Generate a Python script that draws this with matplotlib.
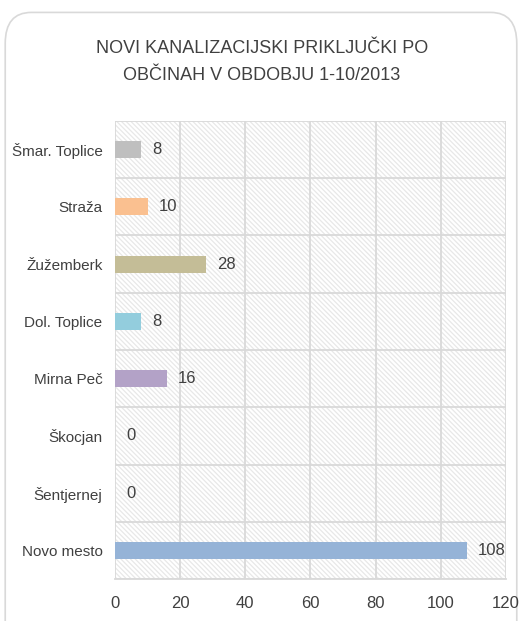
import matplotlib.pyplot as plt
from matplotlib.patches import FancyBboxPatch, Rectangle
import matplotlib.font_manager as fm

names = {f.name for f in fm.fontManager.ttflist}
fam = 'Liberation Sans Narrow' if 'Liberation Sans Narrow' in names else 'Liberation Sans'
plt.rcParams['font.family'] = [fam, 'DejaVu Sans']
plt.rcParams['hatch.linewidth'] = 0.9

# podatki (od spodaj navzgor)
obcine = ['Novo mesto', 'Šentjernej', 'Škocjan', 'Mirna Peč',
          'Dol. Toplice', 'Žužemberk', 'Straža', 'Šmar. Toplice']
prikljucki = [108, 0, 0, 16, 8, 28, 10, 8]
barve = ['#95b3d7', '#95b3d7', '#95b3d7', '#b3a2c7',
         '#93cddd', '#c4bd97', '#fac090', '#bfbfbf']
x_ticks = [0, 20, 40, 60, 80, 100, 120]

fig = plt.figure(figsize=(5.22, 6.21), dpi=100)
okvir = FancyBboxPatch((0.010, -0.05), 0.980, 1.03, transform=fig.transFigure,
                       boxstyle='round,pad=0,rounding_size=0.05',
                       facecolor='white', edgecolor='#d9d9d9', linewidth=1.2,
                       zorder=-10)
fig.patches.append(okvir)

ax = fig.add_axes([0.2203, 0.0676, 0.7490, 0.7376])
ax.set_facecolor('white')
ax.add_patch(Rectangle((0, 0), 1, 1, transform=ax.transAxes, facecolor='white',
                       edgecolor='#e8e8e8', hatch='\\' * 7, linewidth=0, zorder=0))

pos = range(len(obcine))
ax.barh(pos, prikljucki, height=0.3, color=barve, zorder=3)
for i, v in enumerate(prikljucki):
    ax.annotate(str(v), (v, i), xytext=(8, 0), textcoords='offset points',
                va='center', ha='left', fontsize=12, color='#404040', zorder=4)

ax.set_xlim(0, 120)
ax.set_ylim(-0.5, len(obcine) - 0.5)
ax.set_xticks(x_ticks)
ax.set_yticks(list(pos))
ax.set_yticklabels(obcine)
ax.set_yticks([i - 0.5 for i in range(len(obcine) + 1)], minor=True)
ax.grid(True, axis='x', color='#d9d9d9', linewidth=1.3, zorder=1)
ax.grid(True, axis='y', which='minor', color='#d9d9d9', linewidth=1.3, zorder=1)
ax.grid(False, axis='y', which='major')
ax.tick_params(axis='both', which='both', length=0, colors='#404040')
ax.tick_params(axis='y', pad=9, labelsize=11)
ax.tick_params(axis='x', pad=12, labelsize=12)
for s in ['top', 'right', 'left']:
    ax.spines[s].set_visible(False)
ax.spines['bottom'].set_color('#d9d9d9')
ax.spines['bottom'].set_linewidth(1.3)
ax.set_axisbelow(True)

fig.text(0.502, 0.9, 'NOVI KANALIZACIJSKI PRIKLJUČKI PO\nOBČINAH V OBDOBJU 1-10/2013',
         ha='center', va='center', fontsize=13, color='#404040', linespacing=1.75)

fig.savefig('out.png', dpi=100)
